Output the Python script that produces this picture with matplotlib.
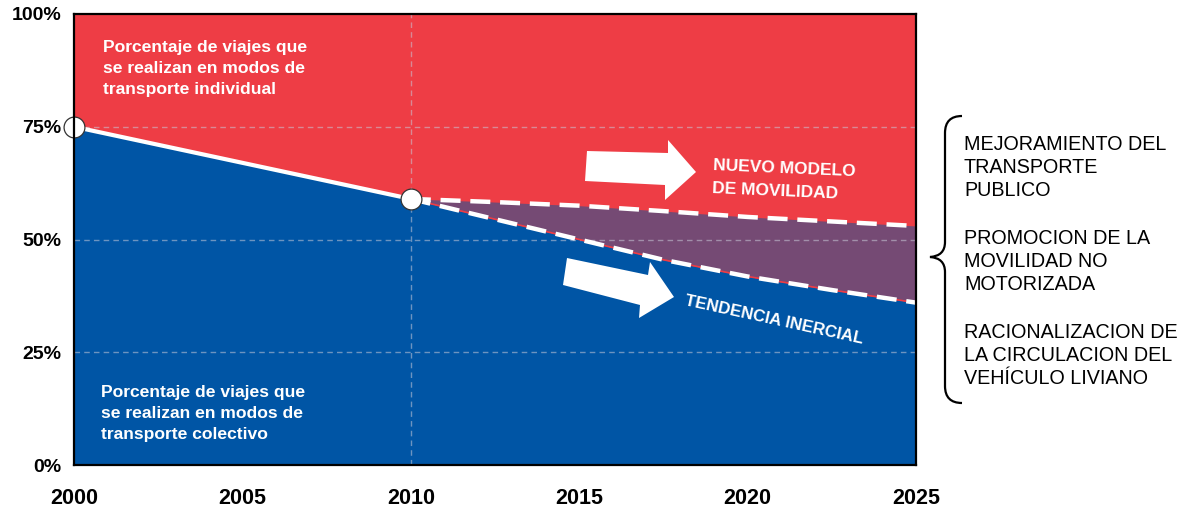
import matplotlib
matplotlib.use("Agg")
import matplotlib.pyplot as plt
from matplotlib.path import Path
from matplotlib.patches import PathPatch, Polygon
from matplotlib.transforms import IdentityTransform

# ---- data -------------------------------------------------------------
years_hist = [2000, 2005, 2010]
share_hist = [75, 67, 59]            # % trips in collective transport

years_proj = [2010, 2012.5, 2015, 2017.5, 2020, 2022.5, 2025]
trend_inertial = [59, 54.5, 50, 45.5, 41.8, 38.8, 36]   # inertial trend
trend_new = [59, 58.3, 57.5, 56.3, 55, 54, 53]          # new mobility model

x_ticks = [2000, 2005, 2010, 2015, 2020, 2025]
y_ticks = [0, 25, 50, 75, 100]
y_ticklabels = ["0%", "25%", "50%", "75%", "100%"]

measures = [
    ["MEJORAMIENTO DEL", "TRANSPORTE", "PUBLICO"],
    ["PROMOCION DE LA", "MOVILIDAD NO", "MOTORIZADA"],
    ["RACIONALIZACION DE", "LA CIRCULACION DEL", "VEHÍCULO LIVIANO"],
]
label_individual = ["Porcentaje de viajes que", "se realizan en modos de",
                    "transporte individual"]
label_collective = ["Porcentaje de viajes que", "se realizan en modos de",
                    "transporte colectivo"]

# ---- style ------------------------------------------------------------
RED = "#EE3D45"
BLUE = "#0055A5"
PURPLE = "#754A74"
FONT = "Liberation Sans"
plt.rcParams["font.family"] = [FONT, "DejaVu Sans"]

W, H = 1191, 508
fig = plt.figure(figsize=(W / 100, H / 100), dpi=100)
ax = fig.add_axes([74 / W, 1 - 465 / H, (916 - 74) / W, (465 - 14) / H])


def px(x, y):
    """Pixel position measured from the top-left corner -> display coords."""
    return (x, H - y)


# combined lower boundary (collective share under the inertial trend)
x_all = years_hist + years_proj[1:]
y_inertial = share_hist + trend_inertial[1:]

ax.fill_between(x_all, 0, 100, color=RED, lw=0, zorder=1)
ax.fill_between(x_all, 0, y_inertial, color=BLUE, lw=0, zorder=2)
ax.fill_between(years_proj, trend_inertial, trend_new, color=PURPLE,
                lw=0, zorder=2)

# grid
grid_kw = dict(color="#c8c8d8", alpha=0.55, lw=1.0, dashes=(4, 3), zorder=3)
for yv in y_ticks[1:-1]:
    ax.axhline(yv, **grid_kw)
ax.axvline(2010, **grid_kw)

# lines
ax.plot(years_hist, share_hist, color="white", lw=3, zorder=5,
        solid_capstyle="butt")
ax.plot(years_proj, trend_inertial, color=RED, lw=1.2, zorder=4)
ax.plot(years_proj, trend_inertial, color="white", lw=3.2, zorder=5,
        dashes=(4.5, 2.2))
ax.plot(years_proj, trend_new, color="white", lw=3.2, zorder=5,
        dashes=(4.5, 2.2))
ax.plot([years_hist[0], years_hist[-1]], [share_hist[0], share_hist[-1]],
        ls="none", marker="o", ms=15, mfc="white", mec="#333333",
        mew=0.9, zorder=6, clip_on=False)

# axes
ax.set_xlim(2000, 2025)
ax.set_ylim(0, 100)
ax.set_xticks(x_ticks)
ax.set_xticklabels([str(v) for v in x_ticks], fontsize=15.5, fontweight="bold")
ax.set_yticks(y_ticks)
ax.set_yticklabels(y_ticklabels, fontsize=14, fontweight="bold")
ax.tick_params(axis="x", length=0, pad=16.5)
ax.tick_params(axis="y", length=0, pad=9)
for sp in ax.spines.values():
    sp.set_color("black")
    sp.set_linewidth(1.6)
    sp.set_zorder(7)

# block arrows
arrow_top = [px(587, 151), px(668, 153), px(668, 140), px(696, 172),
             px(665, 200), px(665, 185), px(585, 181)]
arrow_bottom = [px(567, 258), px(648, 275), px(650, 262), px(674, 297),
                px(639, 318), px(640, 305), px(563, 285)]
for pts in (arrow_top, arrow_bottom):
    fig.patches.append(Polygon(pts, closed=True, facecolor="white",
                               edgecolor="none", transform=IdentityTransform(),
                               figure=fig, zorder=8))

# scenario labels
txt_kw = dict(color="white", fontsize=12.5, fontweight="bold", ha="left",
              va="baseline", rotation_mode="anchor",
              transform=IdentityTransform())
fig.text(*px(713, 170), "NUEVO MODELO", rotation=-2.5, **txt_kw)
fig.text(*px(712, 193), "DE MOVILIDAD", rotation=-2.5, **txt_kw)
fig.text(*px(684, 305), "TENDENCIA INERCIAL", rotation=-12.3,
         **dict(txt_kw, fontsize=12.2))

# area descriptions
area_kw = dict(color="white", fontsize=12.6, fontweight="bold", ha="left",
               va="baseline", transform=IdentityTransform())
for i, line in enumerate(label_individual):
    fig.text(*px(103, 52 + 21 * i), line, **area_kw)
for i, line in enumerate(label_collective):
    fig.text(*px(101, 397 + 21 * i), line, **area_kw)

# brace and list of measures
verts = [px(962, 116), px(945, 116), px(945, 133), px(945, 242),
         px(945, 256), px(930, 257), px(945, 258), px(945, 272),
         px(945, 386), px(945, 403), px(962, 403)]
codes = [Path.MOVETO, Path.CURVE3, Path.CURVE3, Path.LINETO,
         Path.CURVE3, Path.CURVE3, Path.CURVE3, Path.CURVE3,
         Path.LINETO, Path.CURVE3, Path.CURVE3]
fig.patches.append(PathPatch(Path(verts, codes), facecolor="none",
                             edgecolor="black", lw=1.6,
                             transform=IdentityTransform(), figure=fig))

list_kw = dict(color="black", fontsize=14.2, ha="left", va="baseline",
               transform=IdentityTransform())
for b, block in enumerate(measures):
    for i, line in enumerate(block):
        fig.text(*px(964, 149.5 + 94 * b + 23.3 * i), line, **list_kw)

fig.savefig("out.png", dpi=100, facecolor="white")
